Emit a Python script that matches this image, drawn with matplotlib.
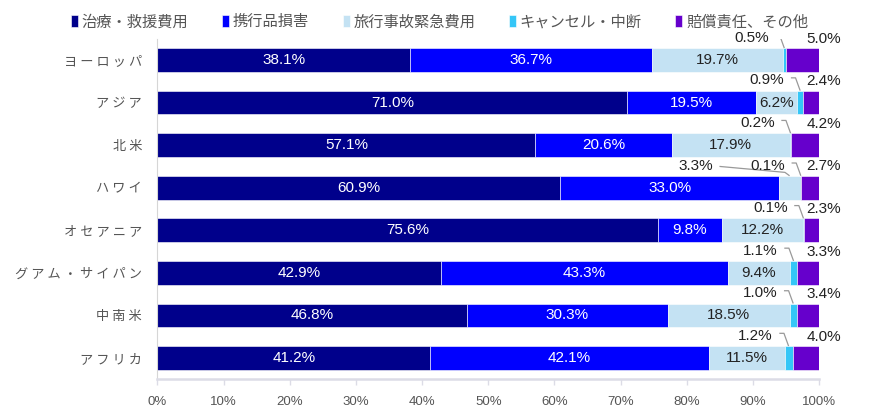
import numpy as np
import matplotlib.pyplot as plt

plt.rcParams['font.family'] = ['Liberation Sans', 'Noto Sans CJK JP', 'DejaVu Sans']

regions = ['ヨーロッパ', 'アジア', '北米', 'ハワイ', 'オセアニア', 'グアム・サイパン', '中南米', 'アフリカ']
series = ['治療・救援費用', '携行品損害', '旅行事故緊急費用', 'キャンセル・中断', '賠償責任、その他']
medical = [38.1, 71.0, 57.1, 60.9, 75.6, 42.9, 46.8, 41.2]
baggage = [36.7, 19.5, 20.6, 33.0, 9.8, 43.3, 30.3, 42.1]
accident = [19.7, 6.2, 17.9, 3.3, 12.2, 9.4, 18.5, 11.5]
cancel = [0.5, 0.9, 0.2, 0.1, 0.1, 1.1, 1.0, 1.2]
liability = [5.0, 2.4, 4.2, 2.7, 2.3, 3.3, 3.4, 4.0]
colors = ['#00008b', '#0000ff', '#c4e2f3', '#35c6f7', '#6600cc']
xticks = [0, 10, 20, 30, 40, 50, 60, 70, 80, 90, 100]

data = [medical, baggage, accident, cancel, liability]
n = len(regions)
y = np.arange(n)
bar_h = 0.56

fig = plt.figure(figsize=(8.74, 4.2), dpi=100)
ax = fig.add_axes([0.1802, 0.0969, 0.7569, 0.811])

left = np.zeros(n)
for k, (vals, col, name) in enumerate(zip(data, colors, series)):
    vals = np.array(vals)
    ax.barh(y, vals, left=left, height=bar_h, color=col, edgecolor='white',
            linewidth=0.4, label=name)
    for i in range(n):
        cx = left[i] + vals[i] / 2
        lab = f'{vals[i]:.1f}%'
        if k < 2:
            ax.text(cx, i, lab, ha='center', va='center', color='white', fontsize=11)
        elif k == 2 and vals[i] >= 5:
            ax.text(cx, i, lab, ha='center', va='center', color='#222222', fontsize=11)
        elif k == 4:
            ax.text(100.75, i - 0.5, lab, ha='center', va='center', color='#222222', fontsize=11)
        else:
            # small segment: label above with a leader line
            off = 14.2 if k == 2 else 5.0
            tx = cx - off
            ax.text(tx, i - 0.52, lab, ha='center', va='center', color='#222222', fontsize=11)
            xs = [tx + 3.6, cx - 0.7, cx]
            ys = [i - 0.58, i - 0.58, i - bar_h / 2]
            if k == 2:
                ys = [i - 0.5, i - 0.36, i - bar_h / 2]
            ax.plot(xs, ys, color='#999999', lw=0.9, solid_capstyle='butt')
    left = left + vals

ax.set_xlim(0, 100)
ax.set_ylim(n - 0.5, -0.5)
ax.set_yticks(y)
ax.set_yticklabels([' '.join(r) for r in regions], family=['Noto Sans CJK JP'],
                   fontsize=9.5, color='#555555')
ax.set_xticks(xticks)
ax.set_xticklabels([f'{t}%' for t in xticks], fontsize=9.5, color='#555555')
ax.tick_params(axis='y', length=0, pad=11)
ax.tick_params(axis='x', length=4, color='#dcdce6', width=1, pad=8)

for s in ['top', 'right']:
    ax.spines[s].set_visible(False)
ax.spines['bottom'].set_color('#dcdce6')
ax.spines['bottom'].set_linewidth(1.8)
ax.spines['left'].set_color('#d6d6d6')
ax.spines['left'].set_linewidth(0.8)

fig.legend(loc='center', bbox_to_anchor=(0.503, 0.948), ncol=5, frameon=False,
           prop={'family': 'Noto Sans CJK JP', 'size': 11}, labelcolor='#555555',
           handlelength=0.45, handleheight=0.8, handletextpad=0.25, columnspacing=2.2)

fig.savefig('out.png', dpi=100)
